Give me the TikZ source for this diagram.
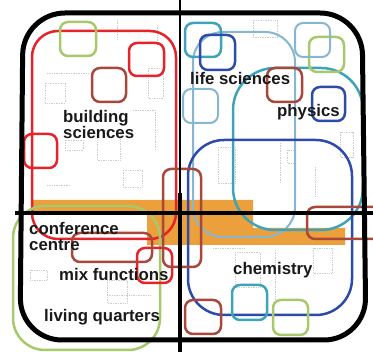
\documentclass[tikz,border=0pt]{standalone}
\usepackage{fontspec}
\setsansfont{Liberation Sans}
\definecolor{zred}{HTML}{E6232A}
\definecolor{zbrown}{HTML}{A8483A}
\definecolor{zgreen}{HTML}{A8C86C}
\definecolor{zteal}{HTML}{3CA3B8}
\definecolor{zsky}{HTML}{86B6D2}
\definecolor{zblue}{HTML}{2D4BAA}
\definecolor{zorange}{HTML}{EBA03C}

\begin{document}
\begin{tikzpicture}[x=1pt,y=-1pt,
  zone/.style={line width=2.5pt,rounded corners=8pt},
  plan/.style={gray!40,densely dotted,line width=0.7pt},
  every node/.style={font={\sffamily\bfseries\fontsize{16.8}{16}\selectfont},text=black!90,anchor=west,inner sep=0pt,align=left}]
  \useasboundingbox (0,0) rectangle (373,352);

  % faint floor plan underneath
  \draw[plan] (47,73) -- (88,73);
  \draw[plan] (45,83) rectangle (65,103);
  \draw[plan] (117,20) -- (117,40);
  \draw[plan] (148,68) rectangle (163,98);
  \draw[plan] (157,25) -- (157,45);
  \draw[plan] (65,140) rectangle (83,150);
  \draw[plan] (97,130) rectangle (120,160);
  \draw[plan] (133,110) -- (155,110) -- (155,150);
  \draw[plan] (123,170) rectangle (142,187);
  \draw[plan] (47,185) -- (70,185);
  \draw[plan] (253,20) rectangle (277,37);
  \draw[plan] (218,147) rectangle (235,183);
  \draw[plan] (280,143) -- (280,183);
  \draw[plan] (287,150) rectangle (295,163);
  \draw[plan] (315,167) -- (315,197);
  \draw[plan] (340,132) rectangle (353,157);
  \draw[plan] (235,252) rectangle (260,287);
  \draw[plan] (275,250) -- (275,300);
  \draw[plan] (313,248) rectangle (332,273);
  \draw[plan] (213,248) -- (245,248);
  \draw[plan] (30,270) rectangle (47,280);
  \draw[plan] (107,280) rectangle (127,303);
  \draw[plan] (107,295) -- (150,295);

  \fill[zorange] (33,200) -- (253,200) -- (253,228) -- (345,228) -- (345,245) -- (147,245) -- (147,213) -- (33,213) -- cycle;

  \draw[zone,zred,rounded corners=26pt] (32,31) rectangle (176,239);
  \draw[zone,zgreen,rounded corners=32pt] (13,206) rectangle (160,350);
  \draw[zone,zsky,line width=2pt,rounded corners=30pt] (193,32) rectangle (295,237);
  \draw[zone,zteal,rounded corners=42pt] (233,68) rectangle (363,230);
  \draw[zone,zblue,rounded corners=36pt] (188,140) rectangle (352,315);

  \draw[zone,zred] (129,43) rectangle (164,76);
  \draw[zone,zred] (24,134) rectangle (57,168);
  \draw[zone,zred] (137,248) rectangle (172,283);

  \draw[zone,zbrown] (92,68) rectangle (126,102);
  \draw[zone,zbrown] (163,169) rectangle (201,267);
  \draw[zone,zbrown] (72,233) rectangle (152,262);
  \draw[zone,zbrown] (307,207) rectangle (385,239);
  \draw[zone,zbrown] (185,300) rectangle (221,334);
  \draw[zone,zbrown] (267,68) rectangle (302,102);

  \draw[zone,zgreen] (60,22) rectangle (96,56);
  \draw[zone,zgreen] (309,37) rectangle (344,72);
  \draw[zone,zgreen] (273,300) rectangle (308,335);

  \draw[zone,zteal] (185,23) rectangle (221,57);
  \draw[zone,zteal] (232,285) rectangle (267,320);
  \draw[zone,zsky,line width=2pt] (295,23) rectangle (330,57);
  \draw[zone,zsky,line width=2pt] (183,89) rectangle (218,123);

  \draw[zone,zblue] (200,35) rectangle (235,70);
  \draw[zone,zblue] (312,87) rectangle (345,121);

  % site outline and the two axes
  \draw[line width=5pt,rounded corners=42pt] (20,340) -- (23,13) -- (362,13) -- (366,340) -- cycle;
  \draw[line width=3.5pt] (15,213) -- (373,213);
  \draw[line width=2pt] (180,0) -- (180,193);
  \draw[line width=4.5pt] (180,193) -- (180,352);

  \node (bs) at (63,124.5) {building\\sciences};
  \node (ls) at (190,78) {life sciences};
  \node (ph) at (277,112) {physics};
  \node (cc) at (29,236) {conference\\centre};
  \node (mf) at (59,274) {mix functions};
  \node (ch) at (233,270.5) {chemistry};
  \node (lq) at (44,317) {living quarters};
\end{tikzpicture}
\end{document}
